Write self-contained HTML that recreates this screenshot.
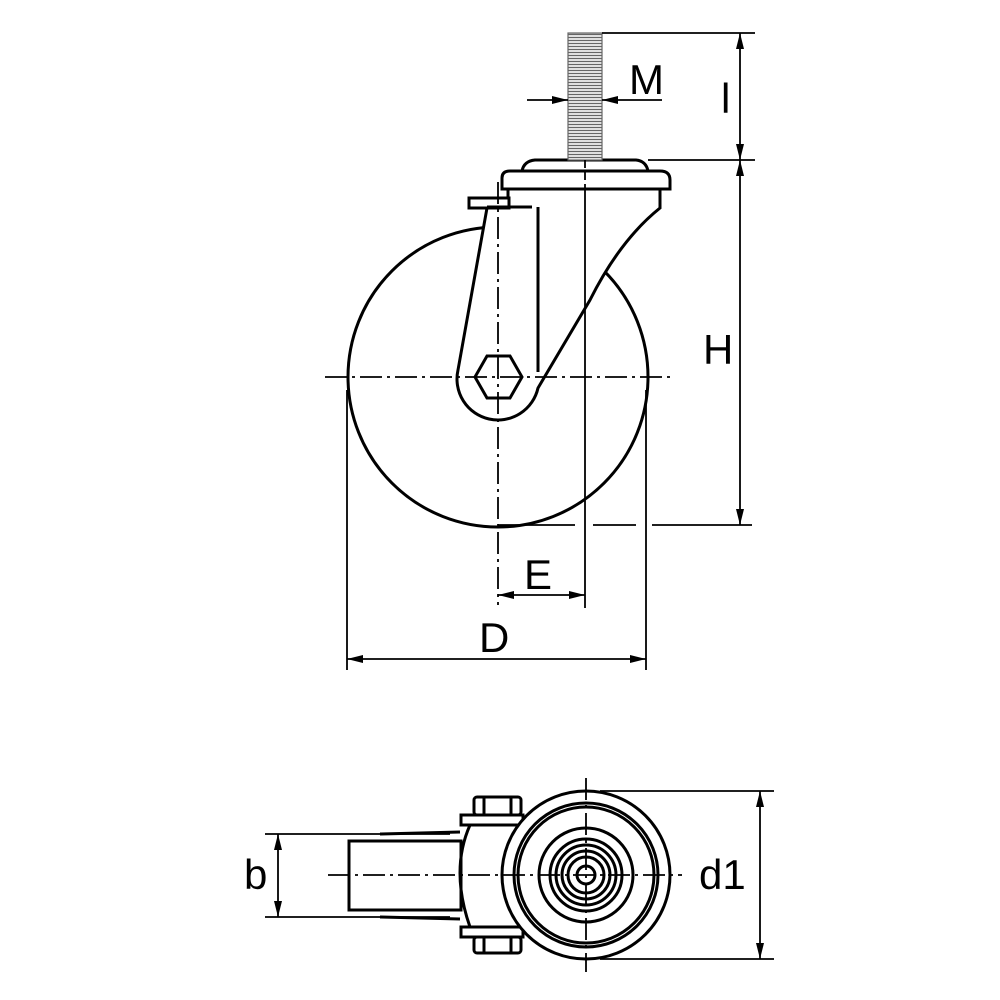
<!DOCTYPE html>
<html><head><meta charset="utf-8"><style>
html,body{margin:0;padding:0;background:#fff}
svg{display:block}
text{font-family:"Liberation Sans",sans-serif;fill:#000}
</style></head><body>
<svg width="1000" height="1000" viewBox="0 0 1000 1000" xmlns="http://www.w3.org/2000/svg">
<defs>
<marker id="a" viewBox="0 0 16 8" refX="16" refY="4" markerWidth="16" markerHeight="8" markerUnits="userSpaceOnUse" orient="auto-start-reverse"><path d="M0,0 L16,4 L0,8 z" fill="#000"/></marker>
<pattern id="thr" width="6" height="3" patternUnits="userSpaceOnUse"><rect width="6" height="3" fill="#fff"/><line x1="0" y1="1.5" x2="6" y2="1.5" stroke="#666" stroke-width="1.4"/></pattern>
</defs>
<g fill="none" stroke="#000" stroke-width="3">
<circle cx="498" cy="377" r="150"/>
</g>
<path d="M487,208 L458,370 A40,40 0 0 0 538,388 L590,300 Q620,240 660,208 L660,189 L508,189 L508,208 Z" fill="#fff" stroke="#000" stroke-width="3"/>
<g fill="none" stroke="#000" stroke-width="3">
<rect x="469" y="198" width="40" height="10" fill="#fff"/>
<line x1="487" y1="207" x2="532" y2="207"/>
<line x1="538" y1="207" x2="538" y2="372"/>
<path d="M502,189 L502,178 Q502,171 510,171 L660,171 Q670,171 670,180 L670,189 Z" fill="#fff"/>
<path d="M522,171 Q524,161 535,160 L636,160 Q646,161 648,171"/>
<path d="M475,377 L487,356 L510,356 L522,377 L510,398 L487,398 Z" fill="#fff"/>
</g>
<rect x="568" y="33" width="34" height="127" fill="url(#thr)" stroke="#666" stroke-width="1.2"/>
<g fill="none" stroke="#000" stroke-width="1.8">
<line x1="325" y1="377" x2="675" y2="377" stroke-dasharray="22,5,3,5"/>
<line x1="498" y1="182" x2="498" y2="605" stroke-dasharray="22,5,3,5"/>
<line x1="585" y1="160" x2="585" y2="190" stroke-dasharray="8,4"/>
<line x1="585" y1="190" x2="585" y2="608"/>
<line x1="602" y1="33" x2="755" y2="33"/>
<line x1="648" y1="160" x2="755" y2="160"/>
<line x1="740" y1="33" x2="740" y2="160" marker-start="url(#a)" marker-end="url(#a)"/>
<line x1="740" y1="160" x2="740" y2="525" marker-start="url(#a)" marker-end="url(#a)"/>
<line x1="498" y1="525" x2="575" y2="525"/>
<line x1="593" y1="525" x2="636" y2="525"/>
<line x1="652" y1="525" x2="752" y2="525"/>
<line x1="527" y1="100" x2="568" y2="100" marker-end="url(#a)"/>
<line x1="662" y1="100" x2="602" y2="100" marker-end="url(#a)"/>
<line x1="498" y1="595" x2="585" y2="595" marker-start="url(#a)" marker-end="url(#a)"/>
<line x1="347" y1="390" x2="347" y2="670"/>
<line x1="646" y1="390" x2="646" y2="670"/>
<line x1="347" y1="659" x2="646" y2="659" marker-start="url(#a)" marker-end="url(#a)"/>
</g>
<text x="629" y="94" font-size="42">M</text>
<text x="721" y="113" font-size="42">l</text>
<text x="703" y="364" font-size="42">H</text>
<text x="524" y="589" font-size="42">E</text>
<text x="479" y="652" font-size="42">D</text>
<g fill="none" stroke="#000" stroke-width="3">
<path d="M349,841 L461,841 L461,910 L349,910 Z"/>
<path d="M380,834 L460,832 M380,917 L460,919"/>
<path d="M470,825 Q450,870 470,927"/>
<rect x="461" y="815" width="62" height="10" fill="#fff"/>
<rect x="461" y="927" width="62" height="10" fill="#fff"/>
<rect x="474" y="797" width="47" height="18" rx="3" fill="#fff"/>
<line x1="484" y1="797" x2="484" y2="815"/><line x1="511" y1="797" x2="511" y2="815"/>
<rect x="474" y="937" width="47" height="16" rx="3" fill="#fff"/>
<line x1="484" y1="937" x2="484" y2="953"/><line x1="511" y1="937" x2="511" y2="953"/>
<circle cx="586" cy="875" r="84" fill="#fff"/>
<circle cx="586" cy="875" r="72"/>
<circle cx="586" cy="875" r="68"/>
<circle cx="586" cy="875" r="47"/>
<circle cx="586" cy="875" r="36"/>
<circle cx="586" cy="875" r="30"/>
<circle cx="586" cy="875" r="24"/>
<circle cx="586" cy="875" r="18"/>
<circle cx="586" cy="875" r="9"/>
</g>
<g fill="none" stroke="#000" stroke-width="1.8">
<line x1="328" y1="875" x2="682" y2="875" stroke-dasharray="22,5,3,5"/>
<line x1="586" y1="778" x2="586" y2="972" stroke-dasharray="22,5,3,5"/>
<line x1="265" y1="834" x2="450" y2="834"/>
<line x1="265" y1="917" x2="450" y2="917"/>
<line x1="278" y1="834" x2="278" y2="917" marker-start="url(#a)" marker-end="url(#a)"/>
<line x1="600" y1="791" x2="774" y2="791"/>
<line x1="600" y1="959" x2="774" y2="959"/>
<line x1="760" y1="791" x2="760" y2="959" marker-start="url(#a)" marker-end="url(#a)"/>
</g>
<text x="244" y="889" font-size="42">b</text>
<text x="699" y="889" font-size="42">d1</text>
</svg>
</body></html>
